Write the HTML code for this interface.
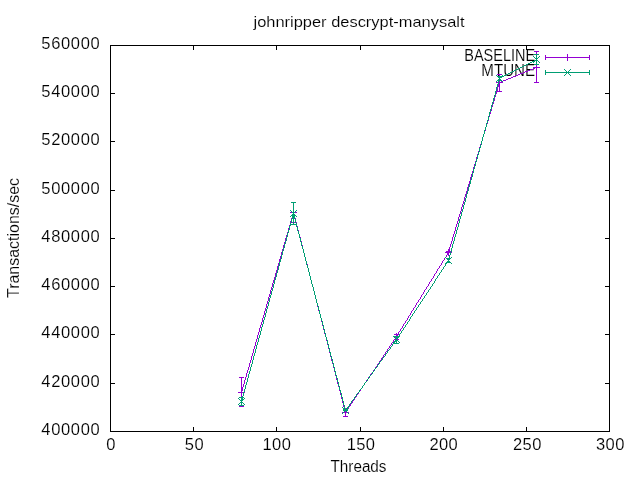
<!DOCTYPE html>
<html><head><meta charset="utf-8"><title>johnripper descrypt-manysalt</title>
<style>
html,body{margin:0;padding:0;background:#fff;}
svg{display:block;}
text{font-family:"Liberation Sans",sans-serif;fill:#000;stroke:#fff;stroke-width:0.14px;paint-order:fill stroke;}
</style></head><body>
<svg width="640" height="480" viewBox="0 0 640 480">
<rect width="640" height="480" fill="#fff"/>
<g>
<text x="359" y="26.8" font-size="15" text-anchor="middle" textLength="211" lengthAdjust="spacingAndGlyphs">johnripper descrypt-manysalt</text>
<text x="100.3" y="435.1" font-size="16.5" text-anchor="end" letter-spacing="0.65">400000</text>
<text x="100.3" y="387.1" font-size="16.5" text-anchor="end" letter-spacing="0.65">420000</text>
<text x="100.3" y="338.1" font-size="16.5" text-anchor="end" letter-spacing="0.65">440000</text>
<text x="100.3" y="290.1" font-size="16.5" text-anchor="end" letter-spacing="0.65">460000</text>
<text x="100.3" y="242.1" font-size="16.5" text-anchor="end" letter-spacing="0.65">480000</text>
<text x="100.3" y="194.1" font-size="16.5" text-anchor="end" letter-spacing="0.65">500000</text>
<text x="100.3" y="145.1" font-size="16.5" text-anchor="end" letter-spacing="0.65">520000</text>
<text x="100.3" y="97.1" font-size="16.5" text-anchor="end" letter-spacing="0.65">540000</text>
<text x="100.3" y="49.1" font-size="16.5" text-anchor="end" letter-spacing="0.65">560000</text>
<text x="111.1" y="450.0" font-size="16.5" text-anchor="middle" letter-spacing="0.35">0</text>
<text x="194.4" y="450.0" font-size="16.5" text-anchor="middle" letter-spacing="0.35">50</text>
<text x="276.9" y="450.0" font-size="16.5" text-anchor="middle" letter-spacing="0.35">100</text>
<text x="361.1" y="450.0" font-size="16.5" text-anchor="middle" letter-spacing="0.35">150</text>
<text x="443.85" y="450.0" font-size="16.5" text-anchor="middle" letter-spacing="0.35">200</text>
<text x="527.4" y="450.0" font-size="16.5" text-anchor="middle" letter-spacing="0.35">250</text>
<text x="610.4" y="450.0" font-size="16.5" text-anchor="middle" letter-spacing="0.35">300</text>
<text x="358.5" y="471.6" font-size="16" text-anchor="middle" textLength="56" lengthAdjust="spacingAndGlyphs">Threads</text>
<text transform="translate(18.5,238) rotate(-90)" font-size="16" text-anchor="middle" textLength="120" lengthAdjust="spacingAndGlyphs">Transactions/sec</text>
<text x="535.1" y="61.2" font-size="16" text-anchor="end" textLength="70.8" lengthAdjust="spacingAndGlyphs">BASELINE</text>
<text x="535.1" y="75.7" font-size="16" text-anchor="end" textLength="53.8" lengthAdjust="spacingAndGlyphs">MTUNE</text>
</g>
<g shape-rendering="crispEdges">
<rect x="110" y="45" width="500" height="1" fill="#000"/>
<rect x="110" y="431" width="500" height="1" fill="#000"/>
<rect x="110" y="45" width="1" height="387" fill="#000"/>
<rect x="609" y="45" width="1" height="387" fill="#000"/>
<rect x="193" y="427" width="1" height="4" fill="#000"/>
<rect x="193" y="46" width="1" height="4" fill="#000"/>
<rect x="276" y="427" width="1" height="4" fill="#000"/>
<rect x="276" y="46" width="1" height="4" fill="#000"/>
<rect x="360" y="427" width="1" height="4" fill="#000"/>
<rect x="360" y="46" width="1" height="4" fill="#000"/>
<rect x="443" y="427" width="1" height="4" fill="#000"/>
<rect x="443" y="46" width="1" height="4" fill="#000"/>
<rect x="526" y="427" width="1" height="4" fill="#000"/>
<rect x="526" y="46" width="1" height="4" fill="#000"/>
<rect x="111" y="383" width="4" height="1" fill="#000"/>
<rect x="605" y="383" width="4" height="1" fill="#000"/>
<rect x="111" y="334" width="4" height="1" fill="#000"/>
<rect x="605" y="334" width="4" height="1" fill="#000"/>
<rect x="111" y="286" width="4" height="1" fill="#000"/>
<rect x="605" y="286" width="4" height="1" fill="#000"/>
<rect x="111" y="238" width="4" height="1" fill="#000"/>
<rect x="605" y="238" width="4" height="1" fill="#000"/>
<rect x="111" y="190" width="4" height="1" fill="#000"/>
<rect x="605" y="190" width="4" height="1" fill="#000"/>
<rect x="111" y="141" width="4" height="1" fill="#000"/>
<rect x="605" y="141" width="4" height="1" fill="#000"/>
<rect x="111" y="93" width="4" height="1" fill="#000"/>
<rect x="605" y="93" width="4" height="1" fill="#000"/>
</g>
<g shape-rendering="crispEdges">
<path d="M277 266h1v4h-1zM263 315h1v3h-1zM260 325h1v3h-1zM257 335h1v4h-1zM248 367h1v3h-1zM293 212h1v2h-1zM279 259h1v4h-1zM276 270h1v3h-1zM267 301h1v3h-1zM273 280h1v3h-1zM259 328h1v4h-1zM250 360h1v3h-1zM266 304h1v4h-1zM256 339h1v3h-1zM292 214h1v4h-1zM244 380h1v4h-1zM249 363h1v4h-1zM289 225h1v3h-1zM275 273h1v4h-1zM246 373h1v4h-1zM286 235h1v3h-1zM252 353h1v3h-1zM253 349h1v4h-1zM243 384h1v3h-1zM245 377h1v3h-1zM285 238h1v4h-1zM271 287h1v3h-1zM272 283h1v4h-1zM262 318h1v4h-1zM268 297h1v4h-1zM255 342h1v4h-1zM242 387h1v4h-1zM258 332h1v3h-1zM264 311h1v4h-1zM251 356h1v4h-1zM291 218h1v3h-1zM283 245h1v4h-1zM254 346h1v3h-1zM247 370h1v3h-1zM287 232h1v3h-1zM270 290h1v4h-1zM290 221h1v4h-1zM281 252h1v4h-1zM241 391h1v2h-1zM274 277h1v3h-1zM282 249h1v3h-1zM278 263h1v3h-1zM269 294h1v3h-1zM288 228h1v4h-1zM265 308h1v3h-1zM284 242h1v3h-1zM261 322h1v3h-1zM280 256h1v3h-1z" fill="#9400d3"/>
<path d="M327 341h1v4h-1zM345 411h1v2h-1zM331 357h1v4h-1zM295 218h1v4h-1zM337 380h1v4h-1zM301 241h1v4h-1zM323 326h1v4h-1zM303 249h1v4h-1zM307 264h1v4h-1zM293 212h1v2h-1zM316 299h1v4h-1zM330 353h1v4h-1zM333 364h1v4h-1zM319 311h1v3h-1zM328 345h1v4h-1zM342 399h1v4h-1zM326 337h1v4h-1zM304 253h1v4h-1zM318 307h1v4h-1zM320 314h1v4h-1zM338 384h1v3h-1zM324 330h1v4h-1zM302 245h1v4h-1zM332 361h1v3h-1zM296 222h1v4h-1zM336 376h1v4h-1zM300 237h1v4h-1zM308 268h1v4h-1zM294 214h1v4h-1zM312 284h1v3h-1zM298 230h1v4h-1zM321 318h1v4h-1zM314 291h1v4h-1zM306 261h1v3h-1zM310 276h1v4h-1zM297 226h1v4h-1zM340 391h1v4h-1zM309 272h1v4h-1zM343 403h1v4h-1zM329 349h1v4h-1zM305 257h1v4h-1zM341 395h1v4h-1zM313 287h1v4h-1zM299 234h1v3h-1zM317 303h1v4h-1zM335 372h1v4h-1zM339 387h1v4h-1zM311 280h1v4h-1zM315 295h1v4h-1zM334 368h1v4h-1zM322 322h1v4h-1zM344 407h1v4h-1zM325 334h1v3h-1z" fill="#9400d3"/>
<path d="M345 412h1v1h-1zM375 367h1v2h-1zM377 364h1v2h-1zM356 395h1v2h-1zM378 363h1v1h-1zM354 398h1v2h-1zM387 349h1v2h-1zM351 403h1v1h-1zM353 400h1v1h-1zM386 351h1v1h-1zM352 401h1v2h-1zM361 388h1v1h-1zM364 383h1v2h-1zM373 370h1v2h-1zM360 389h1v2h-1zM393 340h1v2h-1zM395 337h1v2h-1zM348 407h1v2h-1zM371 373h1v1h-1zM379 361h1v2h-1zM389 346h1v2h-1zM391 343h1v2h-1zM355 397h1v1h-1zM388 348h1v1h-1zM390 345h1v1h-1zM363 385h1v1h-1zM365 382h1v1h-1zM396 336h1v1h-1zM362 386h1v2h-1zM372 372h1v1h-1zM374 369h1v1h-1zM368 377h1v2h-1zM370 374h1v2h-1zM349 406h1v1h-1zM350 404h1v2h-1zM347 409h1v1h-1zM380 360h1v1h-1zM382 357h1v1h-1zM383 355h1v2h-1zM385 352h1v2h-1zM346 410h1v2h-1zM358 392h1v2h-1zM381 358h1v2h-1zM357 394h1v1h-1zM366 380h1v2h-1zM376 366h1v1h-1zM384 354h1v1h-1zM392 342h1v1h-1zM394 339h1v1h-1zM359 391h1v1h-1zM367 379h1v1h-1zM369 376h1v1h-1z" fill="#9400d3"/>
<path d="M429 282h1v2h-1zM431 279h1v2h-1zM426 287h1v2h-1zM428 284h1v2h-1zM417 302h1v1h-1zM419 299h1v1h-1zM436 271h1v2h-1zM447 253h1v2h-1zM416 303h1v2h-1zM405 321h1v2h-1zM407 318h1v2h-1zM397 334h1v2h-1zM422 294h1v1h-1zM424 290h1v2h-1zM413 308h1v2h-1zM415 305h1v2h-1zM411 311h1v2h-1zM412 310h1v1h-1zM401 328h1v1h-1zM403 324h1v2h-1zM439 266h1v2h-1zM441 263h1v2h-1zM442 261h1v2h-1zM418 300h1v2h-1zM420 297h1v2h-1zM400 329h1v2h-1zM402 326h1v2h-1zM430 281h1v1h-1zM408 316h1v2h-1zM410 313h1v2h-1zM446 255h1v2h-1zM448 252h1v1h-1zM437 269h1v2h-1zM396 336h1v1h-1zM398 332h1v2h-1zM434 274h1v2h-1zM444 258h1v2h-1zM414 307h1v1h-1zM432 278h1v1h-1zM433 276h1v2h-1zM404 323h1v1h-1zM421 295h1v2h-1zM423 292h1v2h-1zM409 315h1v1h-1zM425 289h1v1h-1zM427 286h1v1h-1zM406 320h1v1h-1zM443 260h1v1h-1zM445 257h1v1h-1zM435 273h1v1h-1zM399 331h1v1h-1zM438 268h1v1h-1zM440 265h1v1h-1z" fill="#9400d3"/>
<path d="M455 227h1v4h-1zM462 204h1v3h-1zM452 237h1v4h-1zM493 101h1v3h-1zM483 134h1v3h-1zM490 111h1v3h-1zM476 157h1v4h-1zM466 191h1v3h-1zM482 137h1v4h-1zM473 167h1v4h-1zM458 217h1v4h-1zM449 247h1v4h-1zM465 194h1v3h-1zM496 91h1v3h-1zM451 241h1v3h-1zM492 104h1v3h-1zM479 147h1v4h-1zM475 161h1v3h-1zM467 187h1v4h-1zM450 244h1v3h-1zM488 117h1v4h-1zM464 197h1v4h-1zM471 174h1v3h-1zM461 207h1v4h-1zM463 201h1v3h-1zM454 231h1v3h-1zM491 107h1v4h-1zM484 131h1v3h-1zM474 164h1v3h-1zM460 211h1v3h-1zM457 221h1v3h-1zM495 94h1v3h-1zM478 151h1v3h-1zM470 177h1v4h-1zM499 82h1v2h-1zM453 234h1v3h-1zM459 214h1v3h-1zM497 87h1v4h-1zM494 97h1v4h-1zM489 114h1v3h-1zM480 144h1v3h-1zM486 124h1v3h-1zM487 121h1v3h-1zM472 171h1v3h-1zM469 181h1v3h-1zM448 251h1v2h-1zM485 127h1v4h-1zM468 184h1v3h-1zM498 84h1v3h-1zM481 141h1v3h-1zM456 224h1v3h-1zM477 154h1v3h-1z" fill="#9400d3"/>
<path d="M523 72h2v1h-2zM501 81h2v1h-2zM520 73h3v1h-3zM503 80h3v1h-3zM535 67h2v1h-2zM499 82h2v1h-2zM518 74h2v1h-2zM516 75h2v1h-2zM508 78h3v1h-3zM533 68h2v1h-2zM511 77h2v1h-2zM513 76h3v1h-3zM530 69h3v1h-3zM528 70h2v1h-2zM506 79h2v1h-2zM525 71h3v1h-3z" fill="#9400d3"/>
<rect x="241" y="377" width="1" height="30" fill="#9400d3"/>
<rect x="239" y="377" width="5" height="1" fill="#9400d3"/>
<rect x="239" y="406" width="5" height="1" fill="#9400d3"/>
<rect x="293" y="202" width="1" height="21" fill="#9400d3"/>
<rect x="291" y="202" width="5" height="1" fill="#9400d3"/>
<rect x="291" y="222" width="5" height="1" fill="#9400d3"/>
<rect x="345" y="408" width="1" height="9" fill="#9400d3"/>
<rect x="343" y="408" width="5" height="1" fill="#9400d3"/>
<rect x="343" y="416" width="5" height="1" fill="#9400d3"/>
<rect x="396" y="334" width="1" height="6" fill="#9400d3"/>
<rect x="394" y="334" width="5" height="1" fill="#9400d3"/>
<rect x="394" y="339" width="5" height="1" fill="#9400d3"/>
<rect x="448" y="251" width="1" height="2" fill="#9400d3"/>
<rect x="446" y="251" width="5" height="1" fill="#9400d3"/>
<rect x="446" y="252" width="5" height="1" fill="#9400d3"/>
<rect x="499" y="74" width="1" height="18" fill="#9400d3"/>
<rect x="497" y="74" width="5" height="1" fill="#9400d3"/>
<rect x="497" y="91" width="5" height="1" fill="#9400d3"/>
<rect x="536" y="51" width="1" height="32" fill="#9400d3"/>
<rect x="534" y="51" width="5" height="1" fill="#9400d3"/>
<rect x="534" y="82" width="5" height="1" fill="#9400d3"/>
<rect x="238" y="392" width="7" height="1" fill="#9400d3"/><rect x="241" y="389" width="1" height="7" fill="#9400d3"/>
<rect x="290" y="212" width="7" height="1" fill="#9400d3"/><rect x="293" y="209" width="1" height="7" fill="#9400d3"/>
<rect x="342" y="412" width="7" height="1" fill="#9400d3"/><rect x="345" y="409" width="1" height="7" fill="#9400d3"/>
<rect x="393" y="336" width="7" height="1" fill="#9400d3"/><rect x="396" y="333" width="1" height="7" fill="#9400d3"/>
<rect x="445" y="252" width="7" height="1" fill="#9400d3"/><rect x="448" y="249" width="1" height="7" fill="#9400d3"/>
<rect x="496" y="82" width="7" height="1" fill="#9400d3"/><rect x="499" y="79" width="1" height="7" fill="#9400d3"/>
<rect x="533" y="67" width="7" height="1" fill="#9400d3"/><rect x="536" y="64" width="1" height="7" fill="#9400d3"/>
<rect x="545" y="57" width="45" height="1" fill="#9400d3"/>
<rect x="545" y="55" width="1" height="5" fill="#9400d3"/>
<rect x="589" y="55" width="1" height="5" fill="#9400d3"/>
<rect x="564" y="57" width="7" height="1" fill="#9400d3"/><rect x="567" y="54" width="1" height="7" fill="#9400d3"/>
<path d="M249 371h1v3h-1zM260 331h1v4h-1zM284 244h1v4h-1zM290 223h1v3h-1zM252 360h1v4h-1zM281 255h1v4h-1zM253 356h1v4h-1zM278 266h1v4h-1zM245 385h1v4h-1zM274 280h1v4h-1zM271 291h1v4h-1zM262 324h1v3h-1zM268 302h1v4h-1zM292 215h1v4h-1zM256 345h1v4h-1zM255 349h1v4h-1zM289 226h1v4h-1zM280 259h1v3h-1zM277 270h1v3h-1zM270 295h1v3h-1zM258 338h1v4h-1zM264 317h1v3h-1zM293 213h1v2h-1zM251 364h1v3h-1zM276 273h1v4h-1zM243 392h1v4h-1zM273 284h1v4h-1zM266 309h1v4h-1zM254 353h1v3h-1zM250 367h1v4h-1zM247 378h1v4h-1zM291 219h1v4h-1zM279 262h1v4h-1zM285 241h1v3h-1zM272 288h1v3h-1zM287 233h1v4h-1zM275 277h1v3h-1zM244 389h1v3h-1zM241 400h1v2h-1zM269 298h1v4h-1zM265 313h1v4h-1zM283 248h1v3h-1zM246 382h1v3h-1zM261 327h1v4h-1zM242 396h1v4h-1zM257 342h1v3h-1zM286 237h1v4h-1zM267 306h1v3h-1zM282 251h1v4h-1zM263 320h1v4h-1zM248 374h1v4h-1zM259 335h1v3h-1zM288 230h1v3h-1z" fill="#009e73"/>
<path d="M327 340h1v4h-1zM331 356h1v3h-1zM295 219h1v4h-1zM318 306h1v4h-1zM301 242h1v4h-1zM338 382h1v4h-1zM303 249h1v4h-1zM307 265h1v3h-1zM316 299h1v4h-1zM330 352h1v4h-1zM332 359h1v4h-1zM299 234h1v4h-1zM336 375h1v3h-1zM319 310h1v4h-1zM328 344h1v4h-1zM342 397h1v4h-1zM344 405h1v4h-1zM326 337h1v3h-1zM304 253h1v4h-1zM320 314h1v4h-1zM324 329h1v4h-1zM340 390h1v3h-1zM293 213h1v2h-1zM302 246h1v3h-1zM300 238h1v4h-1zM343 401h1v4h-1zM308 268h1v4h-1zM294 215h1v4h-1zM312 284h1v3h-1zM298 231h1v3h-1zM321 318h1v3h-1zM314 291h1v4h-1zM337 378h1v4h-1zM341 393h1v4h-1zM306 261h1v4h-1zM310 276h1v4h-1zM335 371h1v4h-1zM309 272h1v4h-1zM325 333h1v4h-1zM329 348h1v4h-1zM345 409h1v2h-1zM323 325h1v4h-1zM305 257h1v4h-1zM297 227h1v4h-1zM313 287h1v4h-1zM317 303h1v3h-1zM339 386h1v4h-1zM333 363h1v4h-1zM311 280h1v4h-1zM315 295h1v4h-1zM322 321h1v4h-1zM334 367h1v4h-1zM296 223h1v4h-1z" fill="#009e73"/>
<path d="M349 404h1v2h-1zM345 410h1v1h-1zM348 406h1v1h-1zM377 365h1v2h-1zM362 386h1v2h-1zM354 397h1v2h-1zM356 394h1v2h-1zM382 358h1v2h-1zM385 354h1v2h-1zM367 379h1v2h-1zM387 351h1v2h-1zM364 383h1v2h-1zM361 388h1v1h-1zM390 347h1v2h-1zM372 372h1v2h-1zM392 344h1v2h-1zM394 342h1v1h-1zM369 376h1v2h-1zM395 340h1v2h-1zM373 371h1v1h-1zM366 381h1v1h-1zM374 369h1v2h-1zM358 392h1v1h-1zM353 399h1v1h-1zM359 390h1v2h-1zM351 401h1v2h-1zM379 362h1v2h-1zM381 360h1v1h-1zM365 382h1v1h-1zM389 349h1v1h-1zM363 385h1v1h-1zM384 356h1v1h-1zM386 353h1v1h-1zM370 375h1v1h-1zM368 378h1v1h-1zM371 374h1v1h-1zM360 389h1v1h-1zM391 346h1v1h-1zM375 368h1v1h-1zM352 400h1v1h-1zM376 367h1v1h-1zM378 364h1v1h-1zM396 339h1v1h-1zM380 361h1v1h-1zM357 393h1v1h-1zM383 357h1v1h-1zM388 350h1v1h-1zM393 343h1v1h-1zM355 396h1v1h-1zM350 403h1v1h-1zM347 407h1v1h-1zM346 408h1v2h-1z" fill="#009e73"/>
<path d="M401 331h1v2h-1zM424 296h1v2h-1zM403 328h1v2h-1zM404 327h1v1h-1zM434 281h1v2h-1zM432 284h1v2h-1zM411 316h1v1h-1zM412 314h1v2h-1zM448 260h1v1h-1zM410 317h1v2h-1zM420 302h1v2h-1zM399 334h1v2h-1zM396 339h1v1h-1zM398 336h1v1h-1zM439 273h1v2h-1zM442 269h1v1h-1zM406 324h1v1h-1zM430 287h1v2h-1zM447 261h1v2h-1zM428 290h1v2h-1zM426 293h1v2h-1zM436 278h1v1h-1zM414 311h1v2h-1zM416 308h1v2h-1zM413 313h1v1h-1zM435 279h1v2h-1zM444 266h1v1h-1zM443 267h1v2h-1zM445 264h1v2h-1zM422 299h1v2h-1zM418 305h1v2h-1zM441 270h1v2h-1zM400 333h1v1h-1zM421 301h1v1h-1zM423 298h1v1h-1zM402 330h1v1h-1zM397 337h1v2h-1zM429 289h1v1h-1zM431 286h1v1h-1zM409 319h1v2h-1zM408 321h1v1h-1zM405 325h1v2h-1zM407 322h1v2h-1zM437 276h1v2h-1zM415 310h1v1h-1zM446 263h1v1h-1zM433 283h1v1h-1zM438 275h1v1h-1zM440 272h1v1h-1zM419 304h1v1h-1zM417 307h1v1h-1zM425 295h1v1h-1zM427 292h1v1h-1z" fill="#009e73"/>
<path d="M495 91h1v4h-1zM483 134h1v3h-1zM476 159h1v3h-1zM482 137h1v4h-1zM473 169h1v4h-1zM464 202h1v3h-1zM498 80h1v4h-1zM470 180h1v4h-1zM499 78h1v2h-1zM461 212h1v4h-1zM491 105h1v4h-1zM463 205h1v4h-1zM492 102h1v3h-1zM454 237h1v4h-1zM479 148h1v4h-1zM484 130h1v4h-1zM472 173h1v4h-1zM469 184h1v3h-1zM457 227h1v3h-1zM448 259h1v2h-1zM488 116h1v4h-1zM450 252h1v3h-1zM497 84h1v3h-1zM459 219h1v4h-1zM465 198h1v4h-1zM453 241h1v3h-1zM475 162h1v4h-1zM493 98h1v4h-1zM478 152h1v3h-1zM471 177h1v3h-1zM494 95h1v3h-1zM489 112h1v4h-1zM449 255h1v4h-1zM474 166h1v3h-1zM467 191h1v3h-1zM455 234h1v3h-1zM490 109h1v3h-1zM452 244h1v4h-1zM477 155h1v4h-1zM451 248h1v4h-1zM480 145h1v3h-1zM486 123h1v4h-1zM460 216h1v3h-1zM466 194h1v4h-1zM485 127h1v3h-1zM456 230h1v4h-1zM496 87h1v4h-1zM481 141h1v4h-1zM468 187h1v4h-1zM462 209h1v3h-1zM458 223h1v4h-1zM487 120h1v3h-1z" fill="#009e73"/>
<path d="M532 61h2v1h-2zM506 74h2v1h-2zM520 67h2v1h-2zM534 60h2v1h-2zM526 64h2v1h-2zM528 63h2v1h-2zM502 76h2v1h-2zM516 69h2v1h-2zM504 75h2v1h-2zM518 68h2v1h-2zM524 65h2v1h-2zM530 62h2v1h-2zM500 77h2v1h-2zM514 70h2v1h-2zM522 66h2v1h-2zM512 71h2v1h-2zM510 72h2v1h-2zM499 78h1v1h-1zM508 73h2v1h-2zM536 59h1v1h-1z" fill="#009e73"/>
<rect x="241" y="397" width="1" height="9" fill="#009e73"/>
<rect x="239" y="397" width="5" height="1" fill="#009e73"/>
<rect x="239" y="405" width="5" height="1" fill="#009e73"/>
<rect x="293" y="202" width="1" height="23" fill="#009e73"/>
<rect x="291" y="202" width="5" height="1" fill="#009e73"/>
<rect x="291" y="224" width="5" height="1" fill="#009e73"/>
<rect x="345" y="409" width="1" height="2" fill="#009e73"/>
<rect x="343" y="409" width="5" height="1" fill="#009e73"/>
<rect x="343" y="410" width="5" height="1" fill="#009e73"/>
<rect x="396" y="336" width="1" height="8" fill="#009e73"/>
<rect x="394" y="336" width="5" height="1" fill="#009e73"/>
<rect x="394" y="343" width="5" height="1" fill="#009e73"/>
<rect x="448" y="258" width="1" height="5" fill="#009e73"/>
<rect x="446" y="258" width="5" height="1" fill="#009e73"/>
<rect x="446" y="262" width="5" height="1" fill="#009e73"/>
<rect x="499" y="76" width="1" height="5" fill="#009e73"/>
<rect x="497" y="76" width="5" height="1" fill="#009e73"/>
<rect x="497" y="80" width="5" height="1" fill="#009e73"/>
<rect x="536" y="54" width="1" height="11" fill="#009e73"/>
<rect x="534" y="54" width="5" height="1" fill="#009e73"/>
<rect x="534" y="64" width="5" height="1" fill="#009e73"/>
<rect x="238" y="398" width="1" height="1" fill="#009e73"/><rect x="238" y="404" width="1" height="1" fill="#009e73"/><rect x="239" y="399" width="1" height="1" fill="#009e73"/><rect x="239" y="403" width="1" height="1" fill="#009e73"/><rect x="240" y="400" width="1" height="1" fill="#009e73"/><rect x="240" y="402" width="1" height="1" fill="#009e73"/><rect x="241" y="401" width="1" height="1" fill="#009e73"/><rect x="241" y="401" width="1" height="1" fill="#009e73"/><rect x="242" y="402" width="1" height="1" fill="#009e73"/><rect x="242" y="400" width="1" height="1" fill="#009e73"/><rect x="243" y="403" width="1" height="1" fill="#009e73"/><rect x="243" y="399" width="1" height="1" fill="#009e73"/><rect x="244" y="404" width="1" height="1" fill="#009e73"/><rect x="244" y="398" width="1" height="1" fill="#009e73"/>
<rect x="290" y="210" width="1" height="1" fill="#009e73"/><rect x="290" y="216" width="1" height="1" fill="#009e73"/><rect x="291" y="211" width="1" height="1" fill="#009e73"/><rect x="291" y="215" width="1" height="1" fill="#009e73"/><rect x="292" y="212" width="1" height="1" fill="#009e73"/><rect x="292" y="214" width="1" height="1" fill="#009e73"/><rect x="293" y="213" width="1" height="1" fill="#009e73"/><rect x="293" y="213" width="1" height="1" fill="#009e73"/><rect x="294" y="214" width="1" height="1" fill="#009e73"/><rect x="294" y="212" width="1" height="1" fill="#009e73"/><rect x="295" y="215" width="1" height="1" fill="#009e73"/><rect x="295" y="211" width="1" height="1" fill="#009e73"/><rect x="296" y="216" width="1" height="1" fill="#009e73"/><rect x="296" y="210" width="1" height="1" fill="#009e73"/>
<rect x="342" y="407" width="1" height="1" fill="#009e73"/><rect x="342" y="413" width="1" height="1" fill="#009e73"/><rect x="343" y="408" width="1" height="1" fill="#009e73"/><rect x="343" y="412" width="1" height="1" fill="#009e73"/><rect x="344" y="409" width="1" height="1" fill="#009e73"/><rect x="344" y="411" width="1" height="1" fill="#009e73"/><rect x="345" y="410" width="1" height="1" fill="#009e73"/><rect x="345" y="410" width="1" height="1" fill="#009e73"/><rect x="346" y="411" width="1" height="1" fill="#009e73"/><rect x="346" y="409" width="1" height="1" fill="#009e73"/><rect x="347" y="412" width="1" height="1" fill="#009e73"/><rect x="347" y="408" width="1" height="1" fill="#009e73"/><rect x="348" y="413" width="1" height="1" fill="#009e73"/><rect x="348" y="407" width="1" height="1" fill="#009e73"/>
<rect x="393" y="336" width="1" height="1" fill="#009e73"/><rect x="393" y="342" width="1" height="1" fill="#009e73"/><rect x="394" y="337" width="1" height="1" fill="#009e73"/><rect x="394" y="341" width="1" height="1" fill="#009e73"/><rect x="395" y="338" width="1" height="1" fill="#009e73"/><rect x="395" y="340" width="1" height="1" fill="#009e73"/><rect x="396" y="339" width="1" height="1" fill="#009e73"/><rect x="396" y="339" width="1" height="1" fill="#009e73"/><rect x="397" y="340" width="1" height="1" fill="#009e73"/><rect x="397" y="338" width="1" height="1" fill="#009e73"/><rect x="398" y="341" width="1" height="1" fill="#009e73"/><rect x="398" y="337" width="1" height="1" fill="#009e73"/><rect x="399" y="342" width="1" height="1" fill="#009e73"/><rect x="399" y="336" width="1" height="1" fill="#009e73"/>
<rect x="445" y="257" width="1" height="1" fill="#009e73"/><rect x="445" y="263" width="1" height="1" fill="#009e73"/><rect x="446" y="258" width="1" height="1" fill="#009e73"/><rect x="446" y="262" width="1" height="1" fill="#009e73"/><rect x="447" y="259" width="1" height="1" fill="#009e73"/><rect x="447" y="261" width="1" height="1" fill="#009e73"/><rect x="448" y="260" width="1" height="1" fill="#009e73"/><rect x="448" y="260" width="1" height="1" fill="#009e73"/><rect x="449" y="261" width="1" height="1" fill="#009e73"/><rect x="449" y="259" width="1" height="1" fill="#009e73"/><rect x="450" y="262" width="1" height="1" fill="#009e73"/><rect x="450" y="258" width="1" height="1" fill="#009e73"/><rect x="451" y="263" width="1" height="1" fill="#009e73"/><rect x="451" y="257" width="1" height="1" fill="#009e73"/>
<rect x="496" y="75" width="1" height="1" fill="#009e73"/><rect x="496" y="81" width="1" height="1" fill="#009e73"/><rect x="497" y="76" width="1" height="1" fill="#009e73"/><rect x="497" y="80" width="1" height="1" fill="#009e73"/><rect x="498" y="77" width="1" height="1" fill="#009e73"/><rect x="498" y="79" width="1" height="1" fill="#009e73"/><rect x="499" y="78" width="1" height="1" fill="#009e73"/><rect x="499" y="78" width="1" height="1" fill="#009e73"/><rect x="500" y="79" width="1" height="1" fill="#009e73"/><rect x="500" y="77" width="1" height="1" fill="#009e73"/><rect x="501" y="80" width="1" height="1" fill="#009e73"/><rect x="501" y="76" width="1" height="1" fill="#009e73"/><rect x="502" y="81" width="1" height="1" fill="#009e73"/><rect x="502" y="75" width="1" height="1" fill="#009e73"/>
<rect x="533" y="56" width="1" height="1" fill="#009e73"/><rect x="533" y="62" width="1" height="1" fill="#009e73"/><rect x="534" y="57" width="1" height="1" fill="#009e73"/><rect x="534" y="61" width="1" height="1" fill="#009e73"/><rect x="535" y="58" width="1" height="1" fill="#009e73"/><rect x="535" y="60" width="1" height="1" fill="#009e73"/><rect x="536" y="59" width="1" height="1" fill="#009e73"/><rect x="536" y="59" width="1" height="1" fill="#009e73"/><rect x="537" y="60" width="1" height="1" fill="#009e73"/><rect x="537" y="58" width="1" height="1" fill="#009e73"/><rect x="538" y="61" width="1" height="1" fill="#009e73"/><rect x="538" y="57" width="1" height="1" fill="#009e73"/><rect x="539" y="62" width="1" height="1" fill="#009e73"/><rect x="539" y="56" width="1" height="1" fill="#009e73"/>
<rect x="545" y="72" width="45" height="1" fill="#009e73"/>
<rect x="545" y="70" width="1" height="5" fill="#009e73"/>
<rect x="589" y="70" width="1" height="5" fill="#009e73"/>
<rect x="564" y="69" width="1" height="1" fill="#009e73"/><rect x="564" y="75" width="1" height="1" fill="#009e73"/><rect x="565" y="70" width="1" height="1" fill="#009e73"/><rect x="565" y="74" width="1" height="1" fill="#009e73"/><rect x="566" y="71" width="1" height="1" fill="#009e73"/><rect x="566" y="73" width="1" height="1" fill="#009e73"/><rect x="567" y="72" width="1" height="1" fill="#009e73"/><rect x="567" y="72" width="1" height="1" fill="#009e73"/><rect x="568" y="73" width="1" height="1" fill="#009e73"/><rect x="568" y="71" width="1" height="1" fill="#009e73"/><rect x="569" y="74" width="1" height="1" fill="#009e73"/><rect x="569" y="70" width="1" height="1" fill="#009e73"/><rect x="570" y="75" width="1" height="1" fill="#009e73"/><rect x="570" y="69" width="1" height="1" fill="#009e73"/>
</g>
</svg>
</body></html>
